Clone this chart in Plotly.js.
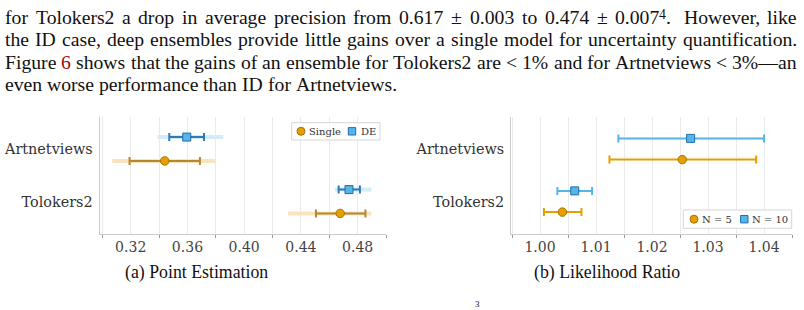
<!DOCTYPE html>
<html><head><meta charset="utf-8">
<script src="https://cdn.plot.ly/plotly-3.0.1.min.js"></script>
<style>html,body{margin:0;padding:0;background:#fff;overflow:hidden}#chart{width:804px;height:310px}</style>
</head><body><div id="chart"></div>
<script>
// ---------- data ----------
const categories = ['Artnetviews', 'Tolokers2'];

// (a) Point Estimation
const peSingleMean      = [0.3440, 0.4677];
const peSingleLow       = [0.3192, 0.4506];
const peSingleHigh      = [0.3688, 0.4855];
const peSingleRangeLow  = [0.3070, 0.4310];
const peSingleRangeHigh = [0.3800, 0.4898];
const peDEMean          = [0.3595, 0.4739];
const peDELow           = [0.3472, 0.4666];
const peDEHigh          = [0.3717, 0.4816];
const peDERangeLow      = [0.3388, 0.4641];
const peDERangeHigh     = [0.3853, 0.4898];
const peTickVals  = [0.32, 0.36, 0.40, 0.44, 0.48];
const peTickText  = ['0.32', '0.36', '0.40', '0.44', '0.48'];
const peMinorVals = [0.30, 0.34, 0.38, 0.42, 0.46, 0.50];

// (b) Likelihood Ratio
const lrN5Mean  = [1.0254, 1.0040];
const lrN5Low   = [1.0124, 1.0007];
const lrN5High  = [1.0386, 1.0074];
const lrN10Mean = [1.0269, 1.0062];
const lrN10Low  = [1.0140, 1.0031];
const lrN10High = [1.0400, 1.0093];
const lrTickVals  = [1.00, 1.01, 1.02, 1.03, 1.04];
const lrTickText  = ['1.00', '1.01', '1.02', '1.03', '1.04'];
const lrMinorVals = [0.995, 1.005, 1.015, 1.025, 1.035, 1.045];

const legendA = ['Single', 'DE'];
const legendB = ['N = 5', 'N = 10'];
const captions = ['(a) Point Estimation', '(b) Likelihood Ratio'];

const paragraphLines = [
  ['for','Tolokers2','a','drop','in','average','precision','from','0.617','±','0.003','to','0.474','±','0.007^4.','However,','like'],
  ['the','ID','case,','deep','ensembles','provide','little','gains','over','a','single','model','for','uncertainty','quantification.'],
  ['Figure','#6','shows','that','the','gains','of','an','ensemble','for','Tolokers2','are','<','1%','and','for','Artnetviews','<','3%—an'],
  ['even','worse','performance','than','ID','for','Artnetviews.']
];

// ---------- styling / geometry ----------
const W = 804, H = 310;
const PX = p => p / W, PY = p => 1 - p / H;
const ORANGE = '#E69F00', ORANGE_EDGE = '#A87300', ORANGE_ERR = '#B8862B', ORANGE_BAND = '#F9E5BD';
const BLUE = '#56B4E9', BLUE_EDGE = '#1F6FAE', BLUE_ERR = '#2B7BBA', BLUE_BAND = '#D5EBF8';
const GRID = '#ebebeb', SPINE = '#cccccc';
const serif = 'DejaVu Serif';

const catY = categories.map((c, i) => categories.length - 1 - i);
const yRange = [-0.619, 1.6095];
const offA = 0.227, offB = 0.202;

const sub = (a, b) => a.map((v, i) => v - b[i]);

function bandTrace(mean, lo, hi, off, color, xa, ya) {
  return {x: mean, y: catY.map(v => v + off), xaxis: xa, yaxis: ya, type: 'scatter', mode: 'markers',
    marker: {size: 1, color: 'rgba(0,0,0,0)'}, hoverinfo: 'skip', showlegend: false,
    error_x: {type: 'data', symmetric: false, array: sub(hi, mean), arrayminus: sub(mean, lo),
      color: color, thickness: 4, width: 0}};
}
function mainTrace(mean, lo, hi, off, errColor, symbol, size, fill, edge, xa, ya, name) {
  return {x: mean, y: catY.map(v => v + off), xaxis: xa, yaxis: ya, type: 'scatter', mode: 'markers', name: name,
    marker: {symbol: symbol, size: size, color: fill, line: {color: edge, width: 1}}, showlegend: false,
    error_x: {type: 'data', symmetric: false, array: sub(hi, mean), arrayminus: sub(mean, lo),
      color: errColor, thickness: 2, width: 4}};
}

const data = [
  bandTrace(peSingleMean, peSingleRangeLow, peSingleRangeHigh, -offA, ORANGE_BAND, 'x', 'y'),
  bandTrace(peDEMean, peDERangeLow, peDERangeHigh, offA, BLUE_BAND, 'x', 'y'),
  mainTrace(peSingleMean, peSingleLow, peSingleHigh, -offA, ORANGE_ERR, 'circle', 8.5, ORANGE, ORANGE_EDGE, 'x', 'y', legendA[0]),
  mainTrace(peDEMean, peDELow, peDEHigh, offA, BLUE_ERR, 'square', 8, BLUE, BLUE_EDGE, 'x', 'y', legendA[1]),
  mainTrace(lrN5Mean, lrN5Low, lrN5High, -offB, ORANGE, 'circle', 8.5, ORANGE, ORANGE_EDGE, 'x2', 'y2', legendB[0]),
  mainTrace(lrN10Mean, lrN10Low, lrN10High, offB, BLUE, 'square', 8, BLUE, BLUE_EDGE, 'x2', 'y2', legendB[1])
];

function xAxis(domain, range, tv, tt, minorVals) {
  return {domain: domain, range: range, tickmode: 'array', tickvals: tv, ticktext: tt, ticks: '',
    showgrid: true, gridcolor: GRID, gridwidth: 1, zeroline: false,
    showline: true, linecolor: SPINE, linewidth: 1, ticklabelstandoff: 0,
    minor: {tickmode: 'array', tickvals: minorVals, showgrid: true, gridcolor: GRID, gridwidth: 1,
      ticks: 'outside', ticklen: 3, tickcolor: '#999', tickwidth: 1},
    tickfont: {family: serif, size: 14, color: '#444'}, fixedrange: true};
}
function yAxis(domain, anchor) {
  return {domain: domain, range: yRange, anchor: anchor, tickmode: 'array', tickvals: catY, ticktext: categories,
    ticks: '', showgrid: false, zeroline: false, showline: true, linecolor: SPINE, linewidth: 1,
    ticklabelstandoff: 3, tickfont: {family: serif, size: 14.4, color: '#333'}, fixedrange: true};
}
const yDom = [(H - 234) / H, (H - 117) / H];

const annotations = [];
const shapes = [];
function txt(text, px, py, size, color, family, xanchor) {
  annotations.push({text: text, x: PX(px), y: PY(py), xref: 'paper', yref: 'paper', xanchor: xanchor || 'left',
    yanchor: 'middle', showarrow: false, borderpad: 0, borderwidth: 0,
    font: {family: family, size: size, color: color}});
}

// ---------- paragraph (justified) ----------
const bodyFont = 'Liberation Serif', bodySize = 19.7;
const cv = document.createElement('canvas').getContext('2d');
function measure(t, size) { cv.font = size + 'px "' + bodyFont + '"'; return cv.measureText(t).width; }
function pieces(tok) {
  if (tok.indexOf('^') >= 0) { const [a, b] = tok.split('^'); return [{t: a}, {t: b[0], sup: true}, {t: b.slice(1)}]; }
  if (tok[0] === '#') return [{t: tok.slice(1), color: '#9b0a0a'}];
  return [{t: tok}];
}
const lineY = [17.5, 39.3, 61.6, 83.6];
const leftX = 5, rightX = 797;
paragraphLines.forEach((words, li) => {
  const toks = words.map(w => pieces(w).map(p => Object.assign(p, {w: measure(p.t, p.sup ? bodySize * 0.7 : bodySize)})));
  const widths = toks.map(ps => ps.reduce((s, p) => s + p.w, 0));
  const total = widths.reduce((s, v) => s + v, 0);
  const weights = words.slice(0, -1).map(w => /\.$/.test(w.replace('^4', '')) ? 1.6 : 1);
  const wsum = weights.reduce((s, v) => s + v, 0);
  const justify = li < paragraphLines.length - 1;
  const unit = justify ? (rightX - leftX - total) / wsum : measure(' ', bodySize);
  let x = leftX;
  toks.forEach((ps, i) => {
    ps.forEach(p => {
      if (p.t) {
        const safe = p.t.replace(/</g, '&lt;');
        txt(safe, x, lineY[li] + (p.sup ? -3.5 : 0), p.sup ? bodySize * 0.7 : bodySize, p.color || '#111', bodyFont, 'left');
      }
      x += p.w;
    });
    if (i < weights.length) x += unit * weights[i];
  });
});

// ---------- captions ----------
txt(captions[0], 196, 272.5, 17.8, '#111', bodyFont, 'center');
txt(captions[1], 607, 272.5, 17.8, '#111', bodyFont, 'center');
txt('3', 477, 303.5, 9, '#111', bodyFont, 'center');

// ---------- legends ----------
function legendBox(x0, x1, y0, y1) {
  shapes.push({type: 'rect', xref: 'paper', yref: 'paper', x0: PX(x0), x1: PX(x1), y0: PY(y0), y1: PY(y1),
    line: {color: '#d6d6d6', width: 1}, fillcolor: 'rgba(255,255,255,0.85)'});
}
function legendCircle(cx, cy) {
  shapes.push({type: 'circle', xref: 'paper', yref: 'paper', x0: PX(cx - 4), x1: PX(cx + 4), y0: PY(cy - 4), y1: PY(cy + 4),
    line: {color: ORANGE_EDGE, width: 1}, fillcolor: ORANGE});
}
function legendSquare(cx, cy) {
  shapes.push({type: 'rect', xref: 'paper', yref: 'paper', x0: PX(cx - 3.7), x1: PX(cx + 3.7), y0: PY(cy - 3.7), y1: PY(cy + 3.7),
    line: {color: BLUE_EDGE, width: 1}, fillcolor: BLUE});
}
legendBox(291.7, 380, 122.7, 140);
legendCircle(301, 131.3); txt(legendA[0], 309.3, 131, 10, '#333', serif);
legendSquare(352, 131.3); txt(legendA[1], 360.7, 131, 10, '#333', serif);
legendBox(683.3, 791.7, 210, 228.3);
legendCircle(694, 219.2); txt(legendB[0], 701.7, 219, 10, '#333', serif);
legendSquare(744.3, 219.2); txt(legendB[1], 751.7, 219, 10, '#333', serif);

const layout = {
  width: W, height: H, margin: {l: 0, r: 0, t: 0, b: 0}, paper_bgcolor: '#fff', plot_bgcolor: '#fff',
  showlegend: false, font: {family: serif},
  xaxis: Object.assign(xAxis([99.5 / W, 386 / W], [0.298, 0.50], peTickVals, peTickText, peMinorVals), {anchor: 'y'}),
  yaxis: yAxis(yDom, 'x'),
  xaxis2: Object.assign(xAxis([511 / W, 792 / W], [0.99482, 1.045], lrTickVals, lrTickText, lrMinorVals), {anchor: 'y2'}),
  yaxis2: yAxis(yDom, 'x2'),
  annotations: annotations, shapes: shapes
};
Plotly.newPlot('chart', data, layout, {displayModeBar: false, staticPlot: true});
</script></body></html>
